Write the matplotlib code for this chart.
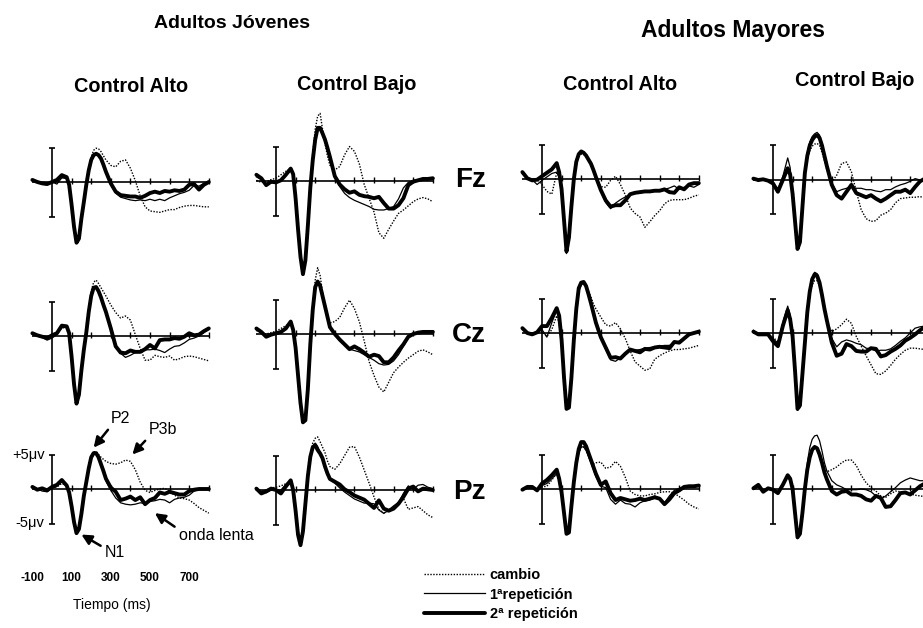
import numpy as np
import matplotlib
matplotlib.use('Agg')
import matplotlib.pyplot as plt

plt.rcParams['font.family'] = ['Liberation Sans', 'DejaVu Sans']

# ---------------- data (ms, microvolts) ----------------
T_MS = [-100, -75, -50, -25, 0, 25, 50, 75,
        87.5, 100, 112.5, 125, 137.5, 150, 162.5, 175, 187.5, 200, 212.5, 225, 237.5, 250, 262.5,
        275, 300, 325, 350, 375, 400, 425, 450, 475, 500, 525, 550, 575, 600, 625, 650, 675, 700, 725, 750, 775, 800]

# Fz - Adultos Jovenes - Control Alto
fz_ja_cambio = [0.2, 0.0, -0.2, -0.2, 0.0, 0.0, 0.7, 0.5,
                -0.4, -3.2, -6.4, -8.7, -8.3, -5.2, -2.6, -0.2, 2.0, 3.6, 4.6, 4.9, 4.8, 4.4, 3.8,
                3.2, 2.4, 2.2, 3.0, 3.2, 2.0, 0.2, -2.0, -3.6, -4.2, -4.3, -4.4, -4.2, -4.0, -4.0, -3.7, -3.5, -3.4, -3.4, -3.5, -3.6, -3.6]
fz_ja_rep1 = [0.2, 0.1, -0.2, -0.3, 0.0, -0.3, 0.6, 0.5,
              -0.3, -3.0, -6.3, -8.6, -8.3, -5.2, -2.7, -0.2, 1.8, 3.3, 4.0, 4.2, 4.0, 3.6, 2.7,
              1.7, -0.2, -1.6, -2.2, -2.4, -2.6, -2.7, -2.6, -2.7, -2.5, -2.7, -2.5, -2.7, -2.3, -2.0, -1.7, -1.5, -1.2, -0.5, -0.6, -0.2, 0.0]
fz_ja_rep2 = [0.3, 0.0, -0.2, -0.3, 0.0, 0.3, 1.0, 0.7,
              -0.4, -3.3, -6.5, -8.8, -8.2, -5.3, -2.9, -0.4, 1.7, 3.2, 3.9, 4.1, 3.9, 3.4, 2.5,
              1.5, -0.2, -1.4, -1.9, -2.0, -2.1, -2.1, -2.3, -2.0, -1.6, -1.4, -1.6, -1.3, -1.4, -1.2, -1.3, -1.1, -0.4, -0.3, -1.1, -0.4, 0.0]

# Fz - Adultos Jovenes - Control Bajo
fz_jb_cambio = [0.1, -0.2, -0.1, 0.2, 0.4, 0.9, 1.4, 1.8,
                0.9, -2.5, -7.0, -11.0, -13.0, -11.0, -6.2, -0.5, 4.0, 7.5, 9.4, 9.8, 7.5, 5.5, 3.6,
                2.3, 1.6, 2.1, 3.8, 5.0, 4.3, 2.5, -0.5, -2.5, -4.5, -7.5, -8.3, -7.0, -5.8, -4.7, -4.2, -3.6, -3.0, -2.6, -2.4, -2.6, -3.0]
fz_jb_rep1 = [0.6, 0.2, -0.4, -0.3, -0.1, 0.1, 0.8, 1.6,
              0.8, -2.6, -7.0, -11.0, -13.3, -11.3, -6.3, -0.8, 3.2, 6.1, 7.6, 7.6, 6.8, 5.8, 4.6,
              3.3, 0.6, -0.8, -1.8, -2.4, -2.8, -3.1, -3.4, -3.7, -4.1, -4.2, -4.2, -4.0, -3.7, -2.6, -1.0, -0.2, 0.1, 0.2, 0.3, 0.2, 0.3]
fz_jb_rep2 = [0.9, 0.4, -0.6, -0.1, -0.2, 0.1, 0.9, 1.8,
              1.0, -2.5, -7.0, -11.0, -13.5, -11.5, -6.5, -1.0, 3.0, 6.0, 7.7, 7.7, 6.9, 6.0, 4.8,
              3.5, 0.7, -0.5, -1.2, -1.7, -1.5, -2.0, -2.2, -2.3, -2.5, -2.3, -3.2, -4.0, -4.0, -3.5, -2.5, -0.6, -0.1, 0.1, 0.3, 0.3, 0.4]

# Fz - Adultos Mayores - Control Alto
fz_ma_cambio = [0.8, 0.2, -0.1, -0.1, -0.8, -1.8, -2.2, 0.9,
                0.3, -2.0, -6.5, -10.8, -8.5, -4.0, 0.0, 2.2, 3.3, 3.6, 3.6, 3.3, 2.8, 2.2, 1.2,
                0.2, -1.1, -1.2, -0.2, 0.4, -0.8, -2.3, -4.2, -5.0, -5.5, -7.0, -6.2, -5.3, -4.6, -3.6, -3.1, -3.0, -3.0, -3.0, -2.8, -2.5, -2.3]
fz_ma_rep1 = [0.8, 0.2, -0.1, -0.8, -0.2, 0.3, 0.8, 1.0,
              0.3, -1.8, -6.0, -10.3, -8.5, -4.0, 0.0, 2.4, 3.5, 3.8, 3.7, 3.3, 2.7, 2.1, 1.2,
              0.2, -1.8, -3.4, -4.3, -3.5, -3.0, -2.6, -2.3, -2.1, -2.0, -1.9, -1.8, -1.7, -1.7, -1.5, -1.3, -1.0, -1.5, -1.2, -1.0, -1.2, -0.8]
fz_ma_rep2 = [1.0, 0.1, -0.2, -0.1, 0.4, 0.9, 1.4, 2.3,
              1.0, -1.5, -6.0, -10.5, -8.5, -4.0, 0.0, 2.5, 3.6, 4.0, 3.8, 3.4, 2.8, 2.2, 1.3,
              0.3, -1.6, -3.1, -4.0, -3.8, -3.8, -3.1, -2.2, -2.0, -1.9, -1.8, -1.8, -1.7, -1.7, -1.5, -1.9, -2.0, -1.2, -1.5, -0.8, -0.6, -0.6]

# Fz - Adultos Mayores - Control Bajo
fz_mb_cambio = [0.2, 0.0, 0.0, 0.0, -0.5, -1.2, 0.2, 1.5,
                0.5, -2.0, -6.0, -10.2, -9.0, -4.0, 0.8, 3.0, 4.2, 4.9, 5.2, 5.3, 5.0, 4.0, 2.8,
                1.5, -0.3, 0.7, 2.4, 2.6, 1.2, -1.7, -4.3, -5.6, -6.0, -5.9, -5.1, -4.8, -4.3, -3.3, -2.7, -2.6, -2.5, -2.5, -2.4, -2.6, -2.7]
fz_mb_rep1 = [0.3, -0.2, 0.2, -0.2, -0.4, -1.5, 0.5, 3.2,
              1.8, -2.0, -6.0, -10.0, -9.0, -4.0, 1.3, 4.0, 5.5, 6.3, 6.7, 6.9, 6.5, 5.3, 3.6,
              2.0, -0.5, -1.7, -1.4, -1.2, -1.0, -1.2, -1.2, -1.4, -1.4, -1.6, -1.7, -1.4, -1.4, -1.0, -0.7, -0.5, -0.2, 0.2, 0.0, 0.2, 0.4]
fz_mb_rep2 = [0.2, 0.0, 0.1, -0.1, -0.5, -1.7, 0.0, 1.7,
              0.8, -2.0, -6.0, -10.0, -9.0, -4.0, 1.0, 3.5, 5.0, 5.8, 6.3, 6.5, 6.1, 5.0, 3.5,
              2.0, -0.7, -2.2, -2.7, -1.7, -0.7, -1.9, -2.2, -2.5, -2.2, -2.7, -3.1, -2.7, -2.2, -1.7, -1.7, -1.4, -1.9, -1.0, -0.2, 0.2, 0.4]

# Cz - Adultos Jovenes - Control Alto
cz_ja_cambio = [0.3, 0.0, -0.2, -0.3, 0.0, 0.3, 1.2, 1.2,
                0.4, -2.8, -6.8, -9.6, -8.4, -5.0, -1.8, 0.8, 4.0, 6.5, 7.8, 8.1, 7.6, 7.0, 6.4,
                5.8, 4.5, 3.4, 2.6, 2.9, 2.3, 0.2, -1.8, -3.5, -3.5, -2.8, -3.0, -3.1, -2.9, -3.5, -3.3, -3.0, -2.9, -3.0, -3.2, -3.4, -3.6]
cz_ja_rep1 = [0.3, 0.0, -0.2, -0.6, -0.3, 0.2, 1.2, 1.3,
              0.5, -2.8, -6.8, -9.6, -8.4, -5.0, -2.0, 0.4, 3.4, 5.6, 6.8, 7.0, 6.5, 5.6, 4.5,
              3.5, 1.5, -1.3, -2.5, -3.1, -2.8, -2.4, -2.2, -2.0, -2.0, -1.9, -2.1, -2.4, -1.9, -1.5, -1.4, -1.0, -0.5, -0.3, 0.0, 0.5, 1.0]
cz_ja_rep2 = [0.4, 0.1, -0.1, -0.3, 0.1, 0.4, 1.5, 1.4,
              0.4, -3.0, -7.0, -9.8, -8.5, -5.0, -2.0, 0.5, 3.5, 5.8, 7.0, 7.1, 6.5, 5.6, 4.5,
              3.5, 1.1, -1.5, -2.4, -2.5, -2.1, -2.3, -2.3, -1.9, -1.3, -1.8, -0.6, -0.5, -0.5, -0.3, -0.4, -0.1, 0.4, 0.1, 0.2, 0.7, 1.1]

# Cz - Adultos Jovenes - Control Bajo
cz_jb_cambio = [0.5, 0.2, 0.0, 0.2, 0.4, 0.8, 1.2, 1.6,
                0.6, -2.0, -6.0, -10.0, -12.5, -12.2, -8.0, -1.2, 4.0, 7.8, 9.6, 8.5, 6.0, 3.8, 2.3,
                1.6, 1.8, 2.4, 3.8, 4.9, 3.7, 1.8, -1.0, -4.0, -6.0, -7.7, -8.4, -7.0, -5.6, -4.8, -4.1, -3.5, -3.0, -2.5, -2.3, -2.6, -3.0]
cz_jb_rep1 = [0.6, 0.2, -0.3, -0.2, 0.0, 0.2, 0.7, 1.6,
              0.5, -2.0, -6.0, -10.0, -12.6, -12.3, -8.0, -1.5, 3.4, 6.6, 7.4, 6.8, 5.4, 4.0, 2.6,
              1.2, 0.0, -1.0, -1.6, -2.2, -2.4, -2.6, -3.0, -3.4, -3.8, -4.3, -4.5, -4.4, -3.9, -3.0, -1.8, -0.5, 0.0, 0.2, 0.3, 0.2, 0.3]
cz_jb_rep2 = [0.8, 0.3, -0.4, -0.1, 0.1, 0.3, 0.8, 1.8,
              0.6, -2.0, -6.0, -10.0, -12.8, -12.5, -8.0, -1.5, 3.5, 6.8, 7.6, 7.0, 5.5, 4.0, 2.5,
              1.0, 0.0, -0.8, -1.5, -2.2, -1.8, -2.2, -2.7, -3.3, -3.0, -3.2, -4.1, -4.1, -3.4, -2.4, -1.5, -0.4, 0.0, 0.2, 0.3, 0.3, 0.3]

# Cz - Adultos Mayores - Control Alto
cz_ma_cambio = [0.6, 0.0, -0.2, 0.0, 0.2, -0.5, 0.5, 2.5,
                1.5, -1.5, -6.5, -10.8, -10.8, -6.5, -1.0, 3.3, 6.0, 7.0, 7.2, 6.8, 6.0, 5.2, 4.2,
                3.5, 2.3, 1.2, 1.0, 1.5, 0.6, -0.8, -2.6, -4.2, -4.8, -5.4, -5.2, -3.8, -3.3, -2.9, -2.6, -2.4, -2.4, -2.3, -2.2, -2.0, -1.8]
cz_ma_rep1 = [0.6, 0.0, -0.2, 0.0, 0.5, -0.6, 1.5, 3.3,
              2.3, -1.2, -6.5, -10.8, -10.8, -6.5, -1.0, 3.4, 6.3, 7.1, 7.3, 6.8, 5.8, 4.7, 3.3,
              1.7, -0.3, -2.3, -3.9, -4.1, -3.6, -2.9, -2.5, -2.5, -2.4, -2.2, -2.1, -2.0, -1.9, -1.8, -1.8, -1.4, -1.2, -0.8, -0.3, 0.0, 0.2]
cz_ma_rep2 = [0.7, 0.0, -0.2, 0.1, 1.0, 1.0, 2.2, 3.6,
              2.5, -1.0, -6.5, -11.0, -10.8, -6.5, -1.0, 3.5, 6.5, 7.3, 7.4, 6.8, 5.6, 4.3, 2.9,
              1.5, -0.6, -2.1, -3.6, -3.5, -3.7, -3.0, -2.4, -2.6, -2.8, -2.3, -2.4, -2.1, -2.0, -2.1, -2.2, -1.3, -1.4, -0.8, -0.2, 0.0, 0.2]

# Cz - Adultos Mayores - Control Bajo
cz_mb_cambio = [0.3, -0.1, -0.2, -0.2, -0.6, -1.3, 1.0, 3.0,
                1.8, -0.5, -5.5, -11.2, -10.8, -6.0, -1.5, 2.8, 5.5, 7.0, 7.6, 7.6, 6.8, 5.3, 3.5,
                1.4, 0.2, 0.6, 1.2, 2.0, 1.4, -0.5, -1.9, -3.3, -4.6, -5.9, -6.0, -5.5, -4.7, -3.8, -3.1, -2.5, -2.2, -2.2, -2.3, -2.4, -2.5]
cz_mb_rep1 = [0.4, -0.3, -0.1, -0.3, -0.8, -1.5, 1.5, 3.9,
              2.6, -0.3, -5.5, -11.0, -10.5, -6.0, -1.3, 3.3, 6.3, 8.0, 8.8, 8.6, 7.6, 5.8, 3.7,
              2.0, -0.8, -2.0, -1.3, -1.0, -1.2, -1.5, -1.7, -2.2, -2.3, -2.6, -2.5, -2.5, -2.3, -1.8, -1.2, -0.7, 0.0, 0.7, 0.9, 1.0, 1.0]
cz_mb_rep2 = [0.2, -0.2, -0.2, -0.2, -1.2, -1.9, 1.0, 3.3,
              2.0, -0.5, -5.5, -11.0, -10.5, -6.0, -1.5, 3.0, 6.0, 7.8, 8.5, 8.3, 7.3, 5.5, 3.5,
              1.8, -1.4, -3.3, -3.0, -1.6, -1.9, -2.6, -2.7, -2.7, -2.2, -2.3, -3.4, -3.2, -2.7, -2.3, -1.8, -1.1, -0.7, -0.2, 0.4, 0.9, 1.0]

# Pz - Adultos Jovenes - Control Alto
pz_ja_cambio = [0.2, 0.0, -0.1, -0.1, 0.2, 0.3, 0.8, 0.5,
                -0.4, -2.5, -4.8, -6.4, -5.8, -3.6, -1.0, 1.2, 3.3, 4.8, 5.4, 5.4, 5.0, 4.6, 4.3,
                4.0, 3.7, 3.6, 3.8, 4.2, 4.0, 2.8, 1.0, -0.2, -0.5, -0.2, 0.0, 0.1, -0.3, -0.9, -1.3, -1.4, -1.6, -2.1, -2.7, -3.1, -3.5]
pz_ja_rep1 = [0.2, 0.0, -0.3, -0.4, 0.2, 0.4, 1.1, 0.4,
              -0.6, -2.6, -4.8, -6.3, -5.8, -3.6, -1.0, 1.0, 3.0, 4.5, 5.0, 5.1, 4.6, 3.6, 2.4,
              1.2, -0.2, -1.3, -2.0, -2.2, -2.3, -2.2, -2.0, -2.1, -1.8, -1.7, -1.5, -1.6, -2.0, -1.5, -1.3, -1.2, -0.9, -0.3, -0.1, 0.0, 0.0]
pz_ja_rep2 = [0.3, -0.1, 0.1, -0.2, 0.3, 0.6, 1.3, 0.5,
              -0.5, -2.5, -4.8, -6.4, -5.8, -3.6, -1.0, 1.0, 3.0, 4.6, 5.2, 5.2, 4.6, 3.6, 2.6,
              1.5, 0.2, -0.4, -1.6, -1.4, -1.1, -1.6, -1.2, -2.2, -1.6, -1.3, -0.5, -0.7, -0.4, -0.6, -0.8, -0.8, -0.3, -0.1, 0.0, 0.0, 0.0]

# Pz - Adultos Jovenes - Control Bajo
pz_jb_cambio = [0.0, -0.2, 0.0, 0.3, 0.4, 0.6, 0.9, 1.2,
                0.3, -2.6, -6.2, -7.9, -6.0, -2.0, 2.2, 5.0, 6.8, 7.5, 7.7, 7.0, 6.2, 5.4, 4.2,
                3.4, 3.0, 3.8, 5.0, 6.2, 6.3, 4.8, 2.9, 1.0, -1.0, -2.8, -3.3, -3.0, -2.7, -1.7, -1.2, -2.8, -2.6, -2.4, -3.0, -3.6, -4.0]
pz_jb_rep1 = [0.0, -0.3, -0.4, 0.0, 0.0, 0.0, 0.8, 1.5,
              0.3, -2.8, -6.3, -7.9, -6.0, -2.0, 2.0, 4.8, 6.3, 6.8, 6.3, 5.5, 4.5, 3.5, 2.5,
              1.5, 1.0, 0.3, -0.3, -0.8, -1.3, -1.6, -1.9, -1.9, -2.0, -2.9, -3.4, -2.9, -2.3, -1.8, -0.5, 0.6, 0.1, 0.7, 0.8, 0.4, 0.2]
pz_jb_rep2 = [0.2, -0.5, -0.2, 0.2, 0.0, -0.5, 0.5, 1.4,
              0.0, -3.0, -6.5, -8.0, -6.0, -2.0, 2.0, 4.8, 6.2, 6.5, 5.8, 5.3, 4.6, 3.4, 2.4,
              1.6, 1.2, 0.8, 0.1, -0.3, -0.8, -1.1, -1.4, -2.0, -2.6, -1.5, -2.7, -3.0, -2.7, -2.0, -1.0, 0.2, 0.5, -0.2, 0.2, 0.1, 0.0]

# Pz - Adultos Mayores - Control Alto
pz_ma_cambio = [-0.1, 0.2, 0.2, -0.1, 0.3, 0.4, 1.3, 2.3,
                1.0, -0.8, -3.6, -6.5, -6.3, -2.5, 0.8, 3.4, 5.2, 6.1, 6.1, 5.6, 4.8, 4.0, 3.6,
                3.8, 3.9, 3.0, 3.2, 4.0, 3.3, 1.7, -0.3, -0.8, -1.0, -1.0, -0.8, -0.7, -0.5, -0.4, -0.4, -0.6, -1.1, -1.6, -2.2, -2.6, -2.9]
pz_ma_rep1 = [0.0, 0.2, 0.2, 0.0, 0.5, 0.8, 1.5, 2.2,
              1.2, -0.6, -3.5, -6.4, -6.2, -2.5, 0.8, 3.4, 5.2, 6.1, 6.1, 5.6, 4.7, 3.8, 2.8,
              1.8, 0.4, 0.2, -1.5, -2.2, -1.6, -2.1, -2.2, -2.6, -2.0, -1.7, -1.6, -1.0, -1.4, -2.0, -1.0, -0.2, 0.1, 0.3, 0.4, 0.4, 0.5]
pz_ma_rep2 = [-0.1, 0.3, 0.3, -0.2, 0.8, 1.3, 2.0, 2.8,
              1.5, -0.5, -3.5, -6.5, -6.3, -2.5, 1.0, 3.8, 5.8, 6.8, 6.8, 6.2, 5.2, 4.2, 3.2,
              2.2, 0.6, 1.1, -0.6, -1.6, -1.3, -1.5, -1.7, -1.6, -1.4, -1.6, -1.4, -1.2, -1.4, -2.2, -1.5, -0.6, -0.2, 0.3, 0.4, 0.4, 0.5]

# Pz - Adultos Mayores - Control Bajo
pz_mb_cambio = [0.0, 0.3, -0.2, 0.0, 0.0, -0.3, 0.5, 1.8,
                1.2, -0.2, -3.5, -7.0, -6.5, -3.5, 0.2, 3.0, 4.8, 5.6, 6.0, 5.8, 5.0, 4.0, 3.0,
                2.5, 2.8, 3.2, 3.8, 4.2, 4.2, 3.4, 2.0, 0.9, 0.2, -0.3, -1.0, -1.2, -0.7, -0.3, -0.4, -0.6, -0.7, -0.9, -1.0, -1.1, -1.2]
pz_mb_rep1 = [0.2, 0.3, -0.3, 0.0, -0.2, -0.5, 0.5, 1.8,
              1.2, -0.2, -3.5, -7.2, -6.6, -3.5, 0.5, 3.8, 6.0, 7.2, 7.7, 7.8, 7.0, 5.5, 3.8,
              2.6, 1.2, 0.6, 0.3, -0.1, -0.1, -0.1, 0.0, -0.1, -0.4, -1.0, -1.5, -1.0, -0.4, 0.2, 0.9, 1.3, 1.6, 1.4, 1.2, 1.2, 1.2]
pz_mb_rep2 = [0.1, 0.6, -0.4, 0.1, -0.1, -0.6, 0.6, 2.0,
              1.5, 0.0, -3.5, -7.0, -6.5, -3.5, 0.0, 2.8, 4.6, 5.7, 6.1, 5.9, 5.0, 3.8, 2.4,
              1.4, -0.3, -0.8, -0.4, -0.3, -0.8, -0.8, -1.0, -1.5, -1.7, -1.0, -1.3, -2.6, -2.5, -1.6, -0.6, -0.5, -0.8, -0.2, 0.4, 0.8, 0.9]

ELECTRODES = ['Fz', 'Cz', 'Pz']
GROUP_TITLES = ['Adultos Jóvenes', 'Adultos Mayores']
COND_TITLES = ['Control Alto', 'Control Bajo', 'Control Alto', 'Control Bajo']
LEGEND_LABELS = ['cambio', '1ªrepetición', '2ª repetición']
TIME_TICK_LABELS = [-100, 100, 300, 500, 700]
BASE_TICKS = [100, 200, 300, 400, 500, 600, 700, 800]
SCALE_UV = 5

PANELS = [
    [(fz_ja_cambio, fz_ja_rep1, fz_ja_rep2), (fz_jb_cambio, fz_jb_rep1, fz_jb_rep2),
     (fz_ma_cambio, fz_ma_rep1, fz_ma_rep2), (fz_mb_cambio, fz_mb_rep1, fz_mb_rep2)],
    [(cz_ja_cambio, cz_ja_rep1, cz_ja_rep2), (cz_jb_cambio, cz_jb_rep1, cz_jb_rep2),
     (cz_ma_cambio, cz_ma_rep1, cz_ma_rep2), (cz_mb_cambio, cz_mb_rep1, cz_mb_rep2)],
    [(pz_ja_cambio, pz_ja_rep1, pz_ja_rep2), (pz_jb_cambio, pz_jb_rep1, pz_jb_rep2),
     (pz_ma_cambio, pz_ma_rep1, pz_ma_rep2), (pz_mb_cambio, pz_mb_rep1, pz_mb_rep2)],
]

# ---------------- layout ----------------
W, H = 923, 628
PX_MS = 0.196
PX_UV = 6.9
X0 = [52, 276, 542, 773]
Y0 = [[182, 181, 179, 180], [336, 334, 333, 333], [489, 490, 489, 489]]
XMIN, XMAX = -110, 810
YMIN, YMAX = -16, 13

fig = plt.figure(figsize=(W / 100, H / 100), dpi=100)

T = np.array(T_MS, dtype=float)
STYLES = [dict(color='k', lw=1.0, linestyle=(0, (1, 1.1))),
          dict(color='k', lw=0.9, solid_joinstyle='round'),
          dict(color='k', lw=2.8, solid_joinstyle='round', solid_capstyle='round')]

axes = [[None] * 4 for _ in range(3)]
handles = None
for r in range(3):
    for c in range(4):
        x0, y0 = X0[c], Y0[r][c]
        left = (x0 + XMIN * PX_MS) / W
        width = (XMAX - XMIN) * PX_MS / W
        bottom = 1 - (y0 - YMIN * PX_UV) / H
        height = (YMAX - YMIN) * PX_UV / H
        ax = fig.add_axes([left, bottom, width, height])
        ax.set_xlim(XMIN, XMAX)
        ax.set_ylim(YMIN, YMAX)
        ax.axis('off')
        # baseline, ticks and calibration bar
        ax.hlines(0, T[0], T[-1], color='k', lw=1.2)
        ax.vlines(BASE_TICKS, -0.25, 0.55, color='k', lw=1.0)
        ax.vlines(0, -SCALE_UV, SCALE_UV, color='k', lw=1.2)
        ax.hlines([-SCALE_UV, SCALE_UV], -14, 14, color='k', lw=1.2)
        hs = []
        for series, st in zip(PANELS[r][c], STYLES):
            ln, = ax.plot(T, series, **st)
            hs.append(ln)
        if handles is None:
            handles = hs
        axes[r][c] = ax

# ---------------- texts ----------------
def ftext(x, y, s, **kw):
    fig.text(x / W, 1 - y / H, s, ha='center', va='center', **kw)

ftext(232, 24, GROUP_TITLES[0], fontsize=14, fontweight='bold')
ftext(733, 30, GROUP_TITLES[1], fontsize=16.5, fontweight='bold')
for c, (x, y) in enumerate([(131, 86), (357, 84), (620, 84), (855, 80)]):
    ftext(x, y, COND_TITLES[c], fontsize=14.3, fontweight='bold')
for r, (x, y) in enumerate([(471, 180), (469, 335), (469, 492)]):
    ftext(x, y, ELECTRODES[r], fontsize=20, fontweight='bold')

# annotated panel (Pz, young, high control)
axa = axes[2][0]
camb, rep1, rep2 = [np.array(s) for s in PANELS[2][0]]
arrow = dict(arrowstyle='-|>', color='k', lw=1.8, mutation_scale=15, shrinkA=1, shrinkB=0)

i_p2 = int(np.argmax(camb[:24]))
axa.annotate('P2', xy=(T[i_p2], camb[i_p2] + 0.6), xytext=(19, 21), textcoords='offset points',
             ha='center', va='center', fontsize=11.5, arrowprops=dict(arrow, relpos=(0.1, 0.1)))
i_p3 = 24 + int(np.argmax(camb[24:]))
axa.annotate('P3b', xy=(T[i_p3] + 35, camb[i_p3] + 0.8), xytext=(22, 18), textcoords='offset points',
             ha='center', va='center', fontsize=11.5, arrowprops=dict(arrow, relpos=(0.05, 0.1)))
i_n1 = int(np.argmin(rep2))
axa.annotate('N1', xy=(T[i_n1] + 25, rep2[i_n1] - 0.2), xytext=(24, -13), textcoords='offset points',
             ha='center', va='center', fontsize=11.5, arrowprops=dict(arrow, relpos=(0.0, 0.8)))
i_sw = T_MS.index(525)
axa.annotate('onda lenta', xy=(T[i_sw], min(rep1[i_sw], rep2[i_sw]) - 1.8), xytext=(17, -16),
             textcoords='offset points', ha='left', va='center', fontsize=11.5,
             arrowprops=dict(arrow, relpos=(0.0, 0.9)))

axa.text(-38, SCALE_UV, '+5μv', ha='right', va='center', fontsize=10.5)
axa.text(-38, -SCALE_UV, '-5μv', ha='right', va='center', fontsize=10.5)
for t in TIME_TICK_LABELS:
    axa.text(t, -12.9, str(t), ha='center', va='center', fontsize=8.5, fontweight='bold')
axa.text(306, -16.8, 'Tiempo (ms)', ha='center', va='center', fontsize=10)

# legend
fig.legend(handles, LEGEND_LABELS, loc='upper left', bbox_to_anchor=(424 / W, 1 - 568 / H),
           frameon=False, handlelength=4.2, handletextpad=0.3, labelspacing=0.38,
           borderpad=0, borderaxespad=0, prop={'weight': 'bold', 'size': 10.5})

fig.savefig('out.png', dpi=100)
